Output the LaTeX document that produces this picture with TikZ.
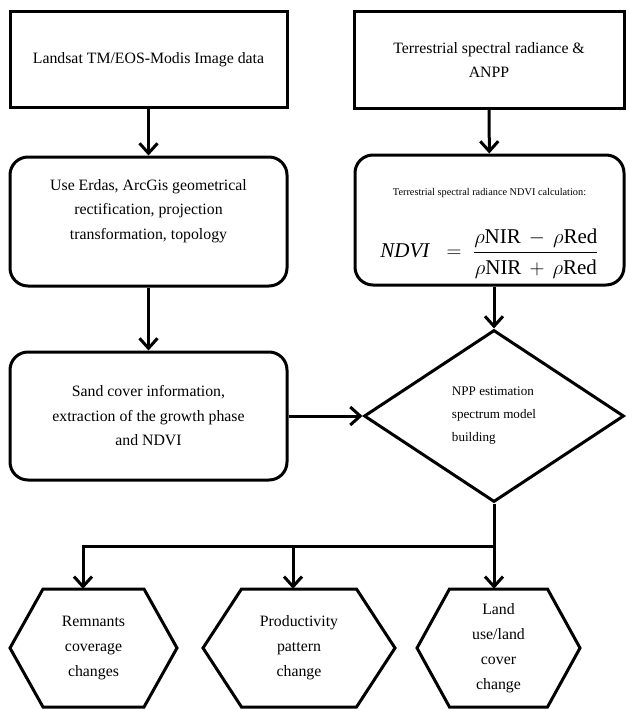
\documentclass[tikz,border=0pt]{standalone}
\usepackage{fontspec}
\setmainfont{Liberation Serif}
\usepackage{amsmath}
\usetikzlibrary{arrows.meta,shapes.geometric,calc}

\tikzset{
  line/.style={line width=3pt},
  arr/.style={line, -{Straight Barb[length=10pt,width=18pt]}},
  box/.style={draw, line, align=center, minimum width=277pt, minimum height=95pt,
    font=\fontsize{15.8}{24.5}\selectfont},
  rbox/.style={box, rounded corners=18pt, minimum height=129pt},
  hexa/.style={align=center, minimum height=118pt, inner sep=0pt,
    font=\fontsize{15.8}{25}\selectfont},
  choice/.style={draw, line, diamond, align=left, minimum width=260pt, minimum height=172pt,
    font=\fontsize{13.1}{23}\selectfont}
}
% hexagon round a text node: name, half width, half top edge
\newcommand\hexout[3]{%
  \draw[line, line join=miter] ($(#1)+(-#2,0)$) -- ($(#1)+(-#3,-59)$) -- ($(#1)+(#3,-59)$)
    -- ($(#1)+(#2,0)$) -- ($(#1)+(#3,59)$) -- ($(#1)+(-#3,59)$) -- cycle;}

\begin{document}
\begin{tikzpicture}[x=1pt, y=-1pt]
\useasboundingbox (0,0) rectangle (626,709);

\node[box] (landsat) at (148.5,59.5) {Landsat TM/EOS-Modis Image data};
\node[box, minimum width=270pt, minimum height=96pt] (anpp) at (489,60)
  {Terrestrial spectral radiance \&\\ANPP};
\node[rbox] (erdas) at (148.5,221.5)
  {Use Erdas, ArcGis geometrical\\rectification, projection\\transformation, topology\\ ~};
\node[rbox, minimum width=269pt, minimum height=130pt] (ndvi) at (489.5,220)
  {{\fontsize{10.3}{12}\selectfont\rule{0pt}{34pt}Terrestrial spectral radiance NDVI calculation:}\\[30pt]
   {\fontsize{21}{24}\selectfont $\mathit{NDVI}\;\;=\;\dfrac{\rho\mathrm{NIR}\,-\,\rho\mathrm{Red}\rule[-5pt]{0pt}{5pt}}{\rule{0pt}{19pt}\rho\mathrm{NIR}\,+\,\rho\mathrm{Red}}$}};
\node[rbox, minimum height=128pt] (sand) at (148.5,416)
  {Sand cover information,\\extraction of the growth phase\\and NDVI};
\node[choice] (npp) at (494,416) {NPP estimation\\spectrum model\\building};

\node[hexa, minimum width=167pt] (remn) at (93.5,648) {Remnants\\coverage\\changes};
\node[hexa, minimum width=192pt] (prod) at (299,648) {Productivity\\pattern\\change};
\node[hexa, minimum width=163pt] (land) at (498.5,648) {Land\\use/land\\cover\\change};
\hexout{remn}{83.5}{50.5}
\hexout{prod}{96}{57.5}
\hexout{land}{81.5}{49}

\coordinate (bus) at (494,546);

\draw[arr] (landsat) -- (erdas);
\draw[arr] (anpp) -- (ndvi);
\draw[arr] (erdas) -- (sand);
\draw[arr] (ndvi.south -| npp.north) -- (npp.north);
\draw[arr] (sand) -- (npp);
\draw[line] (npp.south) -- (bus);
\draw[arr] (bus) -- (bus |- land.north);
\draw[arr] (bus) -| ([xshift=-10.5pt]remn.north);
\draw[arr] ([xshift=-6pt]prod.north |- bus) -- ([xshift=-6pt]prod.north);
\end{tikzpicture}
\end{document}
